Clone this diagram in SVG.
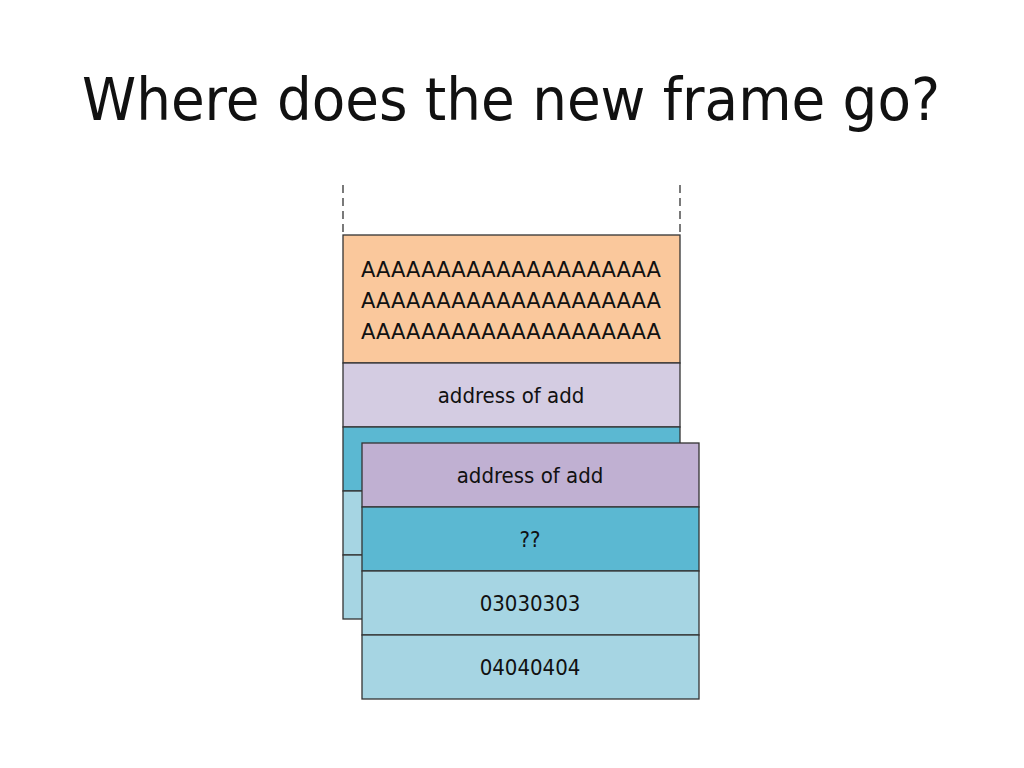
<svg xmlns="http://www.w3.org/2000/svg" width="1024" height="768" viewBox="0 0 1024 768">
<style>
text{font-family:"DejaVu Sans Condensed","DejaVu Sans",sans-serif;fill:#111;text-anchor:middle}
.c{stroke:#333;stroke-width:1.3}
.t{font-size:22px}
</style>
<rect width="1024" height="768" fill="#fff"/>
<text x="511" y="120" font-size="58" textLength="858" lengthAdjust="spacingAndGlyphs">Where does the new frame go?</text>
<g id="connectors" stroke="#333" stroke-width="1.3" stroke-dasharray="8,5">
<line x1="343" y1="185" x2="343" y2="235"/>
<line x1="680" y1="185" x2="680" y2="235"/>
</g>
<g id="back">
<rect class="c" x="343" y="235" width="337" height="128" fill="#fac89c"/>
<text class="t" x="511" y="277" textLength="300" lengthAdjust="spacingAndGlyphs">AAAAAAAAAAAAAAAAAAAA</text>
<text class="t" x="511" y="308" textLength="300" lengthAdjust="spacingAndGlyphs">AAAAAAAAAAAAAAAAAAAA</text>
<text class="t" x="511" y="339" textLength="300" lengthAdjust="spacingAndGlyphs">AAAAAAAAAAAAAAAAAAAA</text>
<rect class="c" x="343" y="363" width="337" height="64" fill="#d4cce2"/>
<text class="t" x="511" y="403">address of add</text>
<rect class="c" x="343" y="427" width="337" height="64" fill="#5bb8d2"/>
<rect class="c" x="343" y="491" width="337" height="64" fill="#a6d5e3"/>
<rect class="c" x="343" y="555" width="337" height="64" fill="#a6d5e3"/>
</g>
<g id="front">
<rect class="c" x="362" y="443" width="337" height="64" fill="#c0b0d2"/>
<text class="t" x="530" y="483">address of add</text>
<rect class="c" x="362" y="507" width="337" height="64" fill="#5bb8d2"/>
<text class="t" x="530" y="547">??</text>
<rect class="c" x="362" y="571" width="337" height="64" fill="#a6d5e3"/>
<text class="t" x="530" y="611">03030303</text>
<rect class="c" x="362" y="635" width="337" height="64" fill="#a6d5e3"/>
<text class="t" x="530" y="675">04040404</text>
</g>
</svg>
